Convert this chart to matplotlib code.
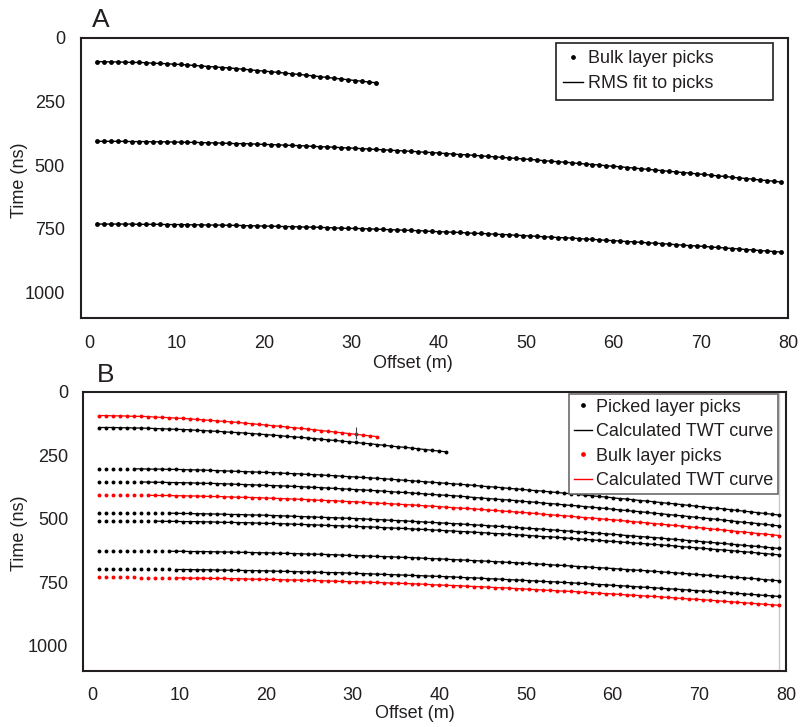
import matplotlib
matplotlib.use("Agg")
import matplotlib.pyplot as plt
from matplotlib.lines import Line2D

plt.rcParams['font.family'] = ['Liberation Sans', 'DejaVu Sans']

TXT = '#231f20'
RED = '#ff0000'
FS = 13

# pick offsets (m), every 0.8 m
offsets = [0.8, 1.6, 2.4, 3.2, 4.0, 4.8, 5.6, 6.4, 7.2, 8.0,
           8.8, 9.6, 10.4, 11.2, 12.0, 12.8, 13.6, 14.4, 15.2, 16.0,
           16.8, 17.6, 18.4, 19.2, 20.0, 20.8, 21.6, 22.4, 23.2, 24.0,
           24.8, 25.6, 26.4, 27.2, 28.0, 28.8, 29.6, 30.4, 31.2, 32.0,
           32.8, 33.6, 34.4, 35.2, 36.0, 36.8, 37.6, 38.4, 39.2, 40.0,
           40.8, 41.6, 42.4, 43.2, 44.0, 44.8, 45.6, 46.4, 47.2, 48.0,
           48.8, 49.6, 50.4, 51.2, 52.0, 52.8, 53.6, 54.4, 55.2, 56.0,
           56.8, 57.6, 58.4, 59.2, 60.0, 60.8, 61.6, 62.4, 63.2, 64.0,
           64.8, 65.6, 66.4, 67.2, 68.0, 68.8, 69.6, 70.4, 71.2, 72.0,
           72.8, 73.6, 74.4, 75.2, 76.0, 76.8, 77.6, 78.4, 79.2]

# bulk layer picks, two-way time (ns)
bulk_1 = [93, 93, 94, 94, 95, 96, 96, 97, 99, 100,
          101, 103, 104, 106, 108, 110, 112, 114, 116, 118,
          120, 123, 125, 128, 130, 133, 135, 138, 141, 143,
          146, 149, 152, 155, 158, 161, 164, 167, 170, 173,
          176]
bulk_2 = [406, 406, 406, 406, 406, 407, 407, 407, 408, 408,
          408, 409, 409, 410, 410, 411, 412, 412, 413, 414,
          415, 415, 416, 417, 418, 419, 420, 421, 422, 423,
          424, 426, 427, 428, 429, 431, 432, 433, 435, 436,
          438, 439, 441, 442, 444, 445, 447, 449, 450, 452,
          454, 456, 458, 459, 461, 463, 465, 467, 469, 471,
          473, 475, 477, 479, 482, 484, 486, 488, 490, 493,
          495, 497, 499, 502, 504, 506, 509, 511, 514, 516,
          519, 521, 524, 526, 529, 531, 534, 536, 539, 542,
          544, 547, 550, 552, 555, 558, 560, 563, 566]
bulk_3 = [731, 731, 731, 731, 731, 731, 732, 732, 732, 732,
          733, 733, 733, 734, 734, 734, 735, 735, 735, 736,
          736, 737, 738, 738, 739, 739, 740, 741, 741, 742,
          743, 743, 744, 745, 746, 747, 748, 748, 749, 750,
          751, 752, 753, 754, 755, 756, 757, 758, 760, 761,
          762, 763, 764, 766, 767, 768, 769, 771, 772, 773,
          775, 776, 778, 779, 781, 782, 784, 785, 786, 788,
          790, 791, 793, 795, 796, 798, 800, 801, 803, 805,
          806, 808, 810, 812, 814, 816, 817, 819, 821, 823,
          825, 827, 829, 831, 833, 835, 837, 839, 841]

# picked layers (panel B, black)
picked_1 = [140, 140, 140, 141, 141, 142, 142, 143, 144, 145,
            146, 147, 148, 149, 151, 152, 154, 155, 157, 159,
            160, 162, 164, 166, 168, 170, 172, 175, 177, 179,
            181, 184, 186, 189, 191, 194, 196, 199, 202, 204,
            207, 210, 213, 216, 218, 221, 224, 227, 230, 233,
            236]
picked_2 = [302, 302, 302, 302, 303, 303, 303, 304, 304, 304,
            305, 305, 306, 307, 307, 308, 309, 310, 311, 312,
            313, 314, 315, 316, 317, 318, 319, 321, 322, 323,
            325, 326, 327, 329, 330, 332, 334, 335, 337, 339,
            340, 342, 344, 346, 348, 350, 352, 354, 356, 358,
            360, 362, 364, 366, 368, 371, 373, 375, 377, 380,
            382, 384, 387, 389, 391, 394, 396, 399, 401, 404,
            407, 409, 412, 414, 417, 420, 422, 425, 428, 430,
            433, 436, 439, 441, 444, 447, 450, 453, 456, 458,
            461, 464, 467, 470, 473, 476, 479, 482, 485]
picked_3 = [354, 354, 354, 354, 355, 355, 355, 355, 356, 356,
            357, 357, 358, 358, 359, 360, 360, 361, 362, 363,
            364, 365, 366, 367, 368, 369, 370, 371, 372, 373,
            375, 376, 377, 379, 380, 382, 383, 385, 386, 388,
            389, 391, 393, 395, 396, 398, 400, 402, 404, 406,
            407, 409, 411, 413, 416, 418, 420, 422, 424, 426,
            428, 431, 433, 435, 438, 440, 442, 445, 447, 449,
            452, 454, 457, 459, 462, 465, 467, 470, 472, 475,
            478, 480, 483, 486, 488, 491, 494, 497, 499, 502,
            505, 508, 511, 514, 516, 519, 522, 525, 528]
picked_4 = [476, 476, 476, 476, 476, 477, 477, 477, 477, 478,
            478, 478, 479, 479, 480, 480, 481, 481, 482, 483,
            483, 484, 485, 485, 486, 487, 488, 489, 490, 491,
            492, 493, 494, 495, 496, 497, 498, 499, 500, 502,
            503, 504, 506, 507, 508, 510, 511, 513, 514, 516,
            517, 519, 520, 522, 524, 525, 527, 529, 530, 532,
            534, 536, 538, 539, 541, 543, 545, 547, 549, 551,
            553, 555, 557, 559, 561, 563, 566, 568, 570, 572,
            574, 576, 579, 581, 583, 586, 588, 590, 593, 595,
            597, 600, 602, 605, 607, 609, 612, 614, 617]
picked_5 = [508, 508, 508, 508, 508, 509, 509, 509, 509, 510,
            510, 510, 511, 511, 511, 512, 512, 513, 514, 514,
            515, 515, 516, 517, 518, 518, 519, 520, 521, 522,
            523, 524, 525, 526, 527, 528, 529, 530, 531, 532,
            533, 535, 536, 537, 538, 540, 541, 542, 544, 545,
            547, 548, 550, 551, 553, 554, 556, 558, 559, 561,
            563, 564, 566, 568, 570, 571, 573, 575, 577, 579,
            581, 583, 585, 587, 589, 591, 593, 595, 597, 599,
            601, 603, 605, 607, 610, 612, 614, 616, 619, 621,
            623, 625, 628, 630, 632, 635, 637, 640, 642]
picked_6 = [626, 626, 626, 626, 626, 626, 627, 627, 627, 627,
            628, 628, 628, 629, 629, 629, 630, 630, 631, 631,
            632, 632, 633, 634, 634, 635, 636, 636, 637, 638,
            639, 639, 640, 641, 642, 643, 644, 645, 646, 647,
            648, 649, 650, 651, 652, 653, 654, 656, 657, 658,
            659, 661, 662, 663, 665, 666, 667, 669, 670, 672,
            673, 675, 676, 678, 679, 681, 683, 684, 686, 688,
            689, 691, 693, 694, 696, 698, 700, 702, 703, 705,
            707, 709, 711, 713, 715, 717, 719, 721, 723, 725,
            727, 729, 731, 733, 735, 737, 740, 742, 744]
picked_7 = [698, 698, 698, 698, 698, 698, 699, 699, 699, 699,
            699, 700, 700, 700, 701, 701, 701, 702, 702, 703,
            703, 704, 704, 705, 705, 706, 707, 707, 708, 709,
            709, 710, 711, 712, 712, 713, 714, 715, 716, 717,
            718, 719, 720, 721, 722, 723, 724, 725, 726, 727,
            728, 729, 731, 732, 733, 734, 736, 737, 738, 740,
            741, 742, 744, 745, 747, 748, 749, 751, 752, 754,
            755, 757, 759, 760, 762, 764, 765, 767, 769, 770,
            772, 774, 776, 777, 779, 781, 783, 785, 786, 788,
            790, 792, 794, 796, 798, 800, 802, 804, 806]

bulk_layers = [bulk_1, bulk_2, bulk_3]
bulk_fit_start = [0, 7, 11]   # first pick covered by the TWT curve in B
picked_layers = [picked_1, picked_2, picked_3, picked_4, picked_5, picked_6, picked_7]
picked_fit_start = [0, 5, 6, 10, 8, 10, 11]

x_ticks = [0, 10, 20, 30, 40, 50, 60, 70, 80]
y_ticks = [0, 250, 500, 750, 1000]

W, H = 802, 727


def fx(px):
    return px / W


def fy(py):
    return 1 - py / H


def style_axis(ax, xmin, xpad, ypad):
    ax.set_xlim(xmin, 80)
    ax.set_ylim(1100, 0)
    ax.set_xticks(x_ticks)
    ax.set_yticks(y_ticks)
    ax.tick_params(length=0, labelsize=FS, colors=TXT)
    ax.tick_params(axis='x', pad=xpad)
    ax.tick_params(axis='y', pad=ypad)
    for s in ax.spines.values():
        s.set_linewidth(1.5)
        s.set_color(TXT)


fig = plt.figure(figsize=(W / 100, H / 100), dpi=100)
axA = fig.add_axes([fx(81), fy(318), fx(707), 280 / H])
axB = fig.add_axes([fx(83), fy(671), fx(703), 279 / H])

# panel A: bulk picks with RMS fit
for t in bulk_layers:
    x = offsets[:len(t)]
    axA.plot(x, t, color='k', lw=1.0, zorder=2)
    axA.plot(x, t, ls='none', marker='o', ms=3.5, color='k', mec='none', zorder=3)
style_axis(axA, -1, 12.5, 11.5)

legA = axA.legend(
    [Line2D([], [], ls='none', marker='o', ms=2.4, color='k'),
     Line2D([], [], color='k', lw=1.0)],
    ['Bulk layer picks', 'RMS fit to picks'],
    loc='upper left', bbox_to_anchor=(fx(556), fy(98), fx(217), 55 / H),
    bbox_transform=fig.transFigure, mode='expand', borderaxespad=0,
    fancybox=False, edgecolor=TXT, framealpha=1, fontsize=FS, labelcolor=TXT,
    handlelength=1.1, handletextpad=0.3, labelspacing=0.45, borderpad=0.4)
legA.get_frame().set_linewidth(1.2)

# panel B: picked layers (black) and bulk layers (red)
for t, k0 in zip(picked_layers, picked_fit_start):
    x = offsets[:len(t)]
    axB.plot(x[k0:], t[k0:], color='k', lw=0.9, zorder=2)
    axB.plot(x, t, ls='none', marker='o', ms=2.8, color='k', mec='none', zorder=3)
for t, k0 in zip(bulk_layers, bulk_fit_start):
    x = offsets[:len(t)]
    axB.plot(x[k0:], t[k0:], color=RED, lw=0.9, zorder=2)
    axB.plot(x, t, ls='none', marker='o', ms=2.8, color=RED, mec='none', zorder=3)
axB.plot([offsets[37]], [bulk_1[37] - 6], ls='none', marker='|', ms=9, mew=0.8,
         color='#444444', zorder=4)
axB.axvline(offsets[-1], color='#c8c8c8', lw=1.0, zorder=1)
style_axis(axB, -1.1, 11.5, 10.5)

legB = axB.legend(
    [Line2D([], [], ls='none', marker='o', ms=2.4, color='k'),
     Line2D([], [], color='k', lw=1.0),
     Line2D([], [], ls='none', marker='o', ms=2.4, color=RED),
     Line2D([], [], color=RED, lw=1.0)],
    ['Picked layer picks', 'Calculated TWT curve', 'Bulk layer picks',
     'Calculated TWT curve'],
    loc='upper right', bbox_to_anchor=(fx(778), fy(394)),
    bbox_transform=fig.transFigure, borderaxespad=0,
    fancybox=False, edgecolor='#6d6a6a', framealpha=1, fontsize=FS, labelcolor=TXT,
    handlelength=1.0, handletextpad=0.25, labelspacing=0.42, borderpad=0.25)
legB.get_frame().set_linewidth(1.2)

# panel letters and axis labels
fig.text(fx(92), fy(20), 'A', fontsize=19, color=TXT, va='center', ha='left')
fig.text(fx(97), fy(375), 'B', fontsize=19, color=TXT, va='center', ha='left')
fig.text(fx(19), fy(180), 'Time (ns)', rotation=90, fontsize=FS, color=TXT,
         va='center', ha='center')
fig.text(fx(19), fy(533), 'Time (ns)', rotation=90, fontsize=FS, color=TXT,
         va='center', ha='center')
fig.text(fx(413), fy(363), 'Offset (m)', fontsize=FS, color=TXT, va='center', ha='center')
fig.text(fx(415), fy(714), 'Offset (m)', fontsize=FS, color=TXT, va='center', ha='center')

fig.savefig('out.png', dpi=100)
